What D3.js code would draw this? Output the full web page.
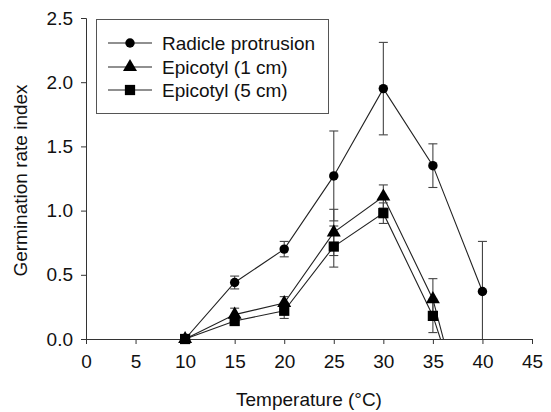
<!DOCTYPE html>
<html>
<head>
<meta charset="utf-8">
<script src="https://cdn.jsdelivr.net/npm/d3@7"></script>
<style>
  body { margin: 0; background: #fff; }
  svg { display: block; font-family: Arial, 'Liberation Sans', sans-serif; }
</style>
</head>
<body>
<svg id="chart" width="551" height="412"></svg>
<script>
// temperatures (°C)
const temps = [10, 15, 20, 25, 30, 35, 40]

// germination rate index
const radicle = [0, 0.44, 0.70, 1.27, 1.95, 1.35, 0.37]
const radicle_err = [0, 0.05, 0.06, 0.35, 0.36, 0.17, 0.39]

// the two epicotyl lines run below the axis after 35 °C and get clipped
const epi_1cm = [0, 0.19, 0.28, 0.83, 1.11, 0.31, -1.15]
const epi_1cm_err = [0, 0.05, 0.05, 0.18, 0.09, 0.16, null]

const epi_5cm = [0, 0.14, 0.22, 0.72, 0.98, 0.18, -1.0]
const epi_5cm_err = [0, 0.03, 0.06, 0.16, 0.08, 0.13, null]

const series_names = ['Radicle protrusion', 'Epicotyl (1 cm)', 'Epicotyl (5 cm)']
const x_ticks = [0, 5, 10, 15, 20, 25, 30, 35, 40, 45]
const y_ticks = [0, 0.5, 1.0, 1.5, 2.0, 2.5]

const make_chart = () => {

    const svg = d3.select('#chart')
    const font_size = 19

    const x = d3.scaleLinear()
        .domain([0, 45])
        .range([86, 532])
    const y = d3.scaleLinear()
        .domain([0, 2.5])
        .range([339, 18])

    const series = [
        { name: series_names[0], values: radicle, err: radicle_err, shape: d3.symbolCircle, size: 70 },
        { name: series_names[1], values: epi_1cm, err: epi_1cm_err, shape: d3.symbolTriangle, size: 85 },
        { name: series_names[2], values: epi_5cm, err: epi_5cm_err, shape: d3.symbolSquare, size: 105 }
    ]

    svg.append('clipPath')
        .attr('id', 'plot-clip')
        .append('rect')
        .attr('x', x(0))
        .attr('y', y(2.5))
        .attr('width', x(45) - x(0))
        .attr('height', y(0) - y(2.5))

    // axes, ticks pointing outwards like sigmaplot
    const xAxis = g => g
        .attr('transform', `translate(0,${y(0)})`)
        .call(d3.axisBottom(x).tickValues(x_ticks).tickSize(5).tickPadding(11).tickFormat(d3.format('d')))
    const yAxis = g => g
        .attr('transform', `translate(${x(0)},0)`)
        .call(d3.axisLeft(y).tickValues(y_ticks).tickSize(5).tickPadding(8).tickFormat(d3.format('.1f')))

    svg.append('g').call(xAxis)
    svg.append('g').call(yAxis)
    svg.selectAll('.domain, .tick line')
        .attr('stroke', '#333')
    svg.selectAll('.tick text')
        .attr('fill', '#111')
        .attr('font-size', font_size)
        .attr('font-family', 'Arial, Liberation Sans, sans-serif')

    svg.append('text')
        .attr('x', (x(0) + x(45)) / 2)
        .attr('y', 406)
        .attr('text-anchor', 'middle')
        .attr('font-size', font_size)
        .attr('fill', '#111')
        .text('Temperature (°C)')

    svg.append('text')
        .attr('transform', `translate(27,${(y(0) + y(2.5)) / 2 + 2}) rotate(-90)`)
        .attr('text-anchor', 'middle')
        .attr('font-size', font_size)
        .attr('fill', '#111')
        .text('Germination rate index')

    const line = d3.line()
        .x((d, i) => x(temps[i]))
        .y(d => y(d))

    const plot = svg.append('g')
        .attr('clip-path', 'url(#plot-clip)')

    series.forEach(s => {
        plot.append('path')
            .datum(s.values)
            .attr('fill', 'none')
            .attr('stroke', '#222')
            .attr('stroke-width', 1.1)
            .attr('d', line)
    })

    // error bars
    series.forEach(s => {
        const bars = s.values
            .map((v, i) => ({ t: temps[i], v: v, e: s.err[i] }))
            .filter(d => d.e)
        const g = plot.append('g')
            .attr('stroke', '#444')
            .attr('stroke-width', 1.1)
        g.selectAll('line.stem')
            .data(bars)
            .join('line')
            .attr('x1', d => x(d.t))
            .attr('x2', d => x(d.t))
            .attr('y1', d => y(d.v - d.e))
            .attr('y2', d => y(d.v + d.e))
        g.selectAll('line.cap-top')
            .data(bars)
            .join('line')
            .attr('x1', d => x(d.t) - 4.5)
            .attr('x2', d => x(d.t) + 4.5)
            .attr('y1', d => y(d.v + d.e))
            .attr('y2', d => y(d.v + d.e))
        g.selectAll('line.cap-bottom')
            .data(bars)
            .join('line')
            .attr('x1', d => x(d.t) - 4.5)
            .attr('x2', d => x(d.t) + 4.5)
            .attr('y1', d => y(d.v - d.e))
            .attr('y2', d => y(d.v - d.e))
    })

    // markers, only the ones inside the y range
    series.forEach(s => {
        svg.append('g')
            .selectAll('path')
            .data(s.values.map((v, i) => ({ t: temps[i], v: v })).filter(d => d.v >= 0))
            .join('path')
            .attr('transform', d => `translate(${x(d.t)},${y(d.v)})`)
            .attr('d', d3.symbol().type(s.shape).size(s.size))
            .attr('fill', '#000')
    })

    // legend
    const legend = svg.append('g')
    legend.append('rect')
        .attr('x', 96.5)
        .attr('y', 19.5)
        .attr('width', 232)
        .attr('height', 94)
        .attr('fill', '#fff')
        .attr('stroke', '#555')
    const rows = [43, 67, 90]
    series.forEach((s, i) => {
        legend.append('line')
            .attr('x1', 108)
            .attr('x2', 152)
            .attr('y1', rows[i])
            .attr('y2', rows[i])
            .attr('stroke', '#222')
            .attr('stroke-width', 1.1)
        legend.append('path')
            .attr('transform', `translate(130,${rows[i]})`)
            .attr('d', d3.symbol().type(s.shape).size(s.size))
            .attr('fill', '#000')
        legend.append('text')
            .attr('x', 162)
            .attr('y', rows[i] + 7)
            .attr('font-size', font_size)
            .attr('fill', '#111')
            .text(s.name)
    })
}

make_chart()
</script>
</body>
</html>
